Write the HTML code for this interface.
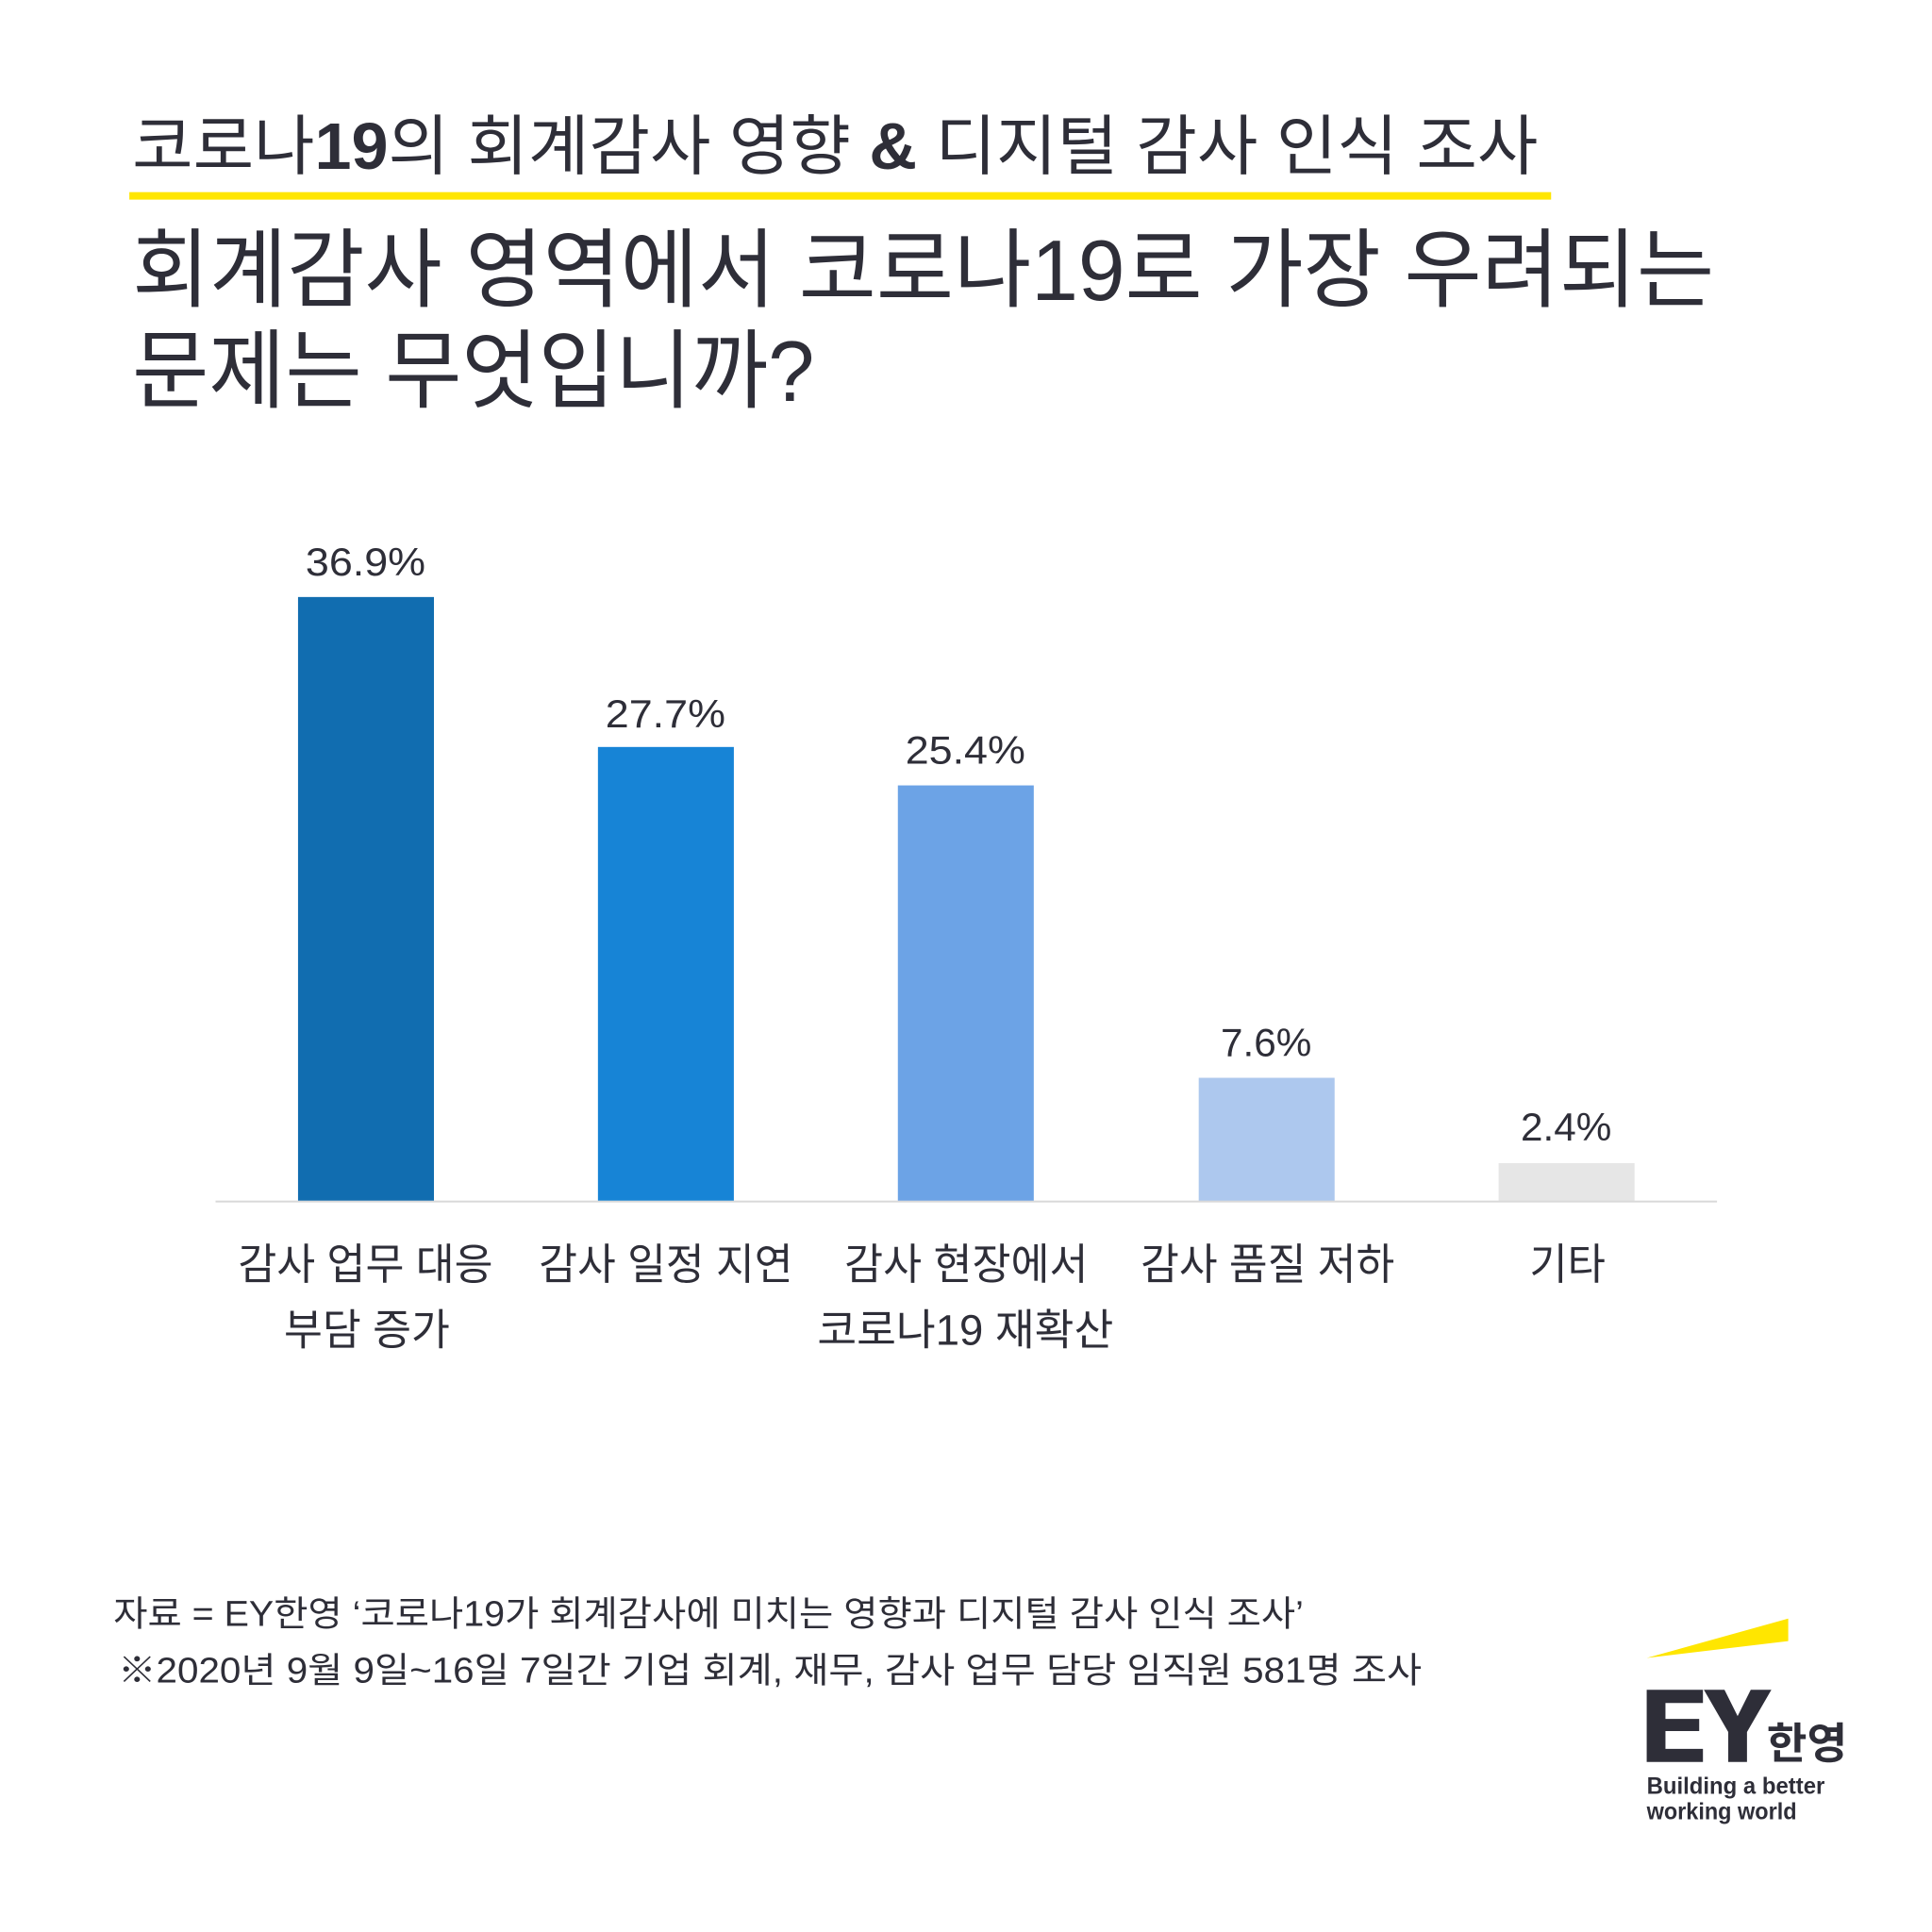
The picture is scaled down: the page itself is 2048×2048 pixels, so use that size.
<!DOCTYPE html>
<html><head><meta charset="utf-8">
<style>
html,body{margin:0;padding:0;background:#fff;}
svg{display:block;}
text{font-family:"Liberation Sans","Noto Sans CJK KR",sans-serif;fill:#2e2e38;}
</style></head>
<body>
<svg width="2048" height="2048" viewBox="0 0 2048 2048" xmlns="http://www.w3.org/2000/svg">
<rect width="2048" height="2048" fill="#fff"/>
<g transform="scale(0.9935)">
<text x="141" y="180" font-size="70" textLength="1500" lengthAdjust="spacingAndGlyphs">코로나<tspan font-weight="bold">19</tspan>의 회계감사 영향 <tspan font-weight="bold">&amp;</tspan> 디지털 감사 인식 조사</text>
<rect x="138" y="205" width="1517" height="8" fill="#ffe600"/>
<text x="141" y="320" font-size="92" textLength="1688" lengthAdjust="spacingAndGlyphs">회계감사 영역에서 코로나19로 가장 우려되는</text>
<text x="141" y="428" font-size="92" textLength="728" lengthAdjust="spacingAndGlyphs">문제는 무엇입니까?</text>
<rect x="318" y="637" width="145" height="645" fill="#116db0"/>
<rect x="638" y="797" width="145" height="485" fill="#1784d6"/>
<rect x="958" y="838" width="145" height="444" fill="#6ca3e6"/>
<rect x="1279" y="1150" width="145" height="132" fill="#adc8ee"/>
<rect x="1599" y="1241" width="145" height="41" fill="#e6e6e6"/>
<rect x="230" y="1281" width="1602" height="2" fill="#d9d9d9"/>
<g font-size="42" text-anchor="middle">
<text x="390" y="614" textLength="128" lengthAdjust="spacingAndGlyphs">36.9%</text>
<text x="710" y="776" textLength="128" lengthAdjust="spacingAndGlyphs">27.7%</text>
<text x="1030" y="815" textLength="128" lengthAdjust="spacingAndGlyphs">25.4%</text>
<text x="1351" y="1127" textLength="97" lengthAdjust="spacingAndGlyphs">7.6%</text>
<text x="1671" y="1217" textLength="97" lengthAdjust="spacingAndGlyphs">2.4%</text>
</g>
<g font-size="46">
<text x="254" y="1365" textLength="272" lengthAdjust="spacingAndGlyphs">감사 업무 대응</text>
<text x="303" y="1435" textLength="177" lengthAdjust="spacingAndGlyphs">부담 증가</text>
<text x="575" y="1365" textLength="271" lengthAdjust="spacingAndGlyphs">감사 일정 지연</text>
<text x="901" y="1365" textLength="260" lengthAdjust="spacingAndGlyphs">감사 현장에서</text>
<text x="872" y="1435" textLength="316" lengthAdjust="spacingAndGlyphs">코로나19 재확산</text>
<text x="1217" y="1365" textLength="271" lengthAdjust="spacingAndGlyphs">감사 품질 저하</text>
<text x="1632" y="1365" textLength="81" lengthAdjust="spacingAndGlyphs">기타</text>
</g>
<g font-size="38">
<text x="121" y="1735" textLength="1270" lengthAdjust="spacingAndGlyphs">자료 = EY한영 ‘코로나19가 회계감사에 미치는 영향과 디지털 감사 인식 조사’</text>
<text x="126" y="1795" textLength="1391" lengthAdjust="spacingAndGlyphs">※2020년 9월 9일~16일 7일간 기업 회계, 재무, 감사 업무 담당 임직원 581명 조사</text>
</g>
<polygon points="1757,1769 1908,1727 1908,1751" fill="#ffe600"/>
<path d="M1757,1803 h60 v14 h-40 v17 h36 v13 h-36 v19 h40 v14 h-60 z" fill="#2e2e38"/>
<path d="M1818,1803 h22 l14,28 l14,-28 h22 l-26,45 v32 h-20 v-32 z" fill="#2e2e38"/>
<text x="1885" y="1876" font-size="46" font-weight="bold" textLength="86" lengthAdjust="spacingAndGlyphs">한영</text>
<text x="1757" y="1914" font-size="25" font-weight="bold" textLength="190" lengthAdjust="spacingAndGlyphs">Building a better</text>
<text x="1757" y="1941" font-size="25" font-weight="bold" textLength="160" lengthAdjust="spacingAndGlyphs">working world</text>
</g>
</svg>
</body></html>
